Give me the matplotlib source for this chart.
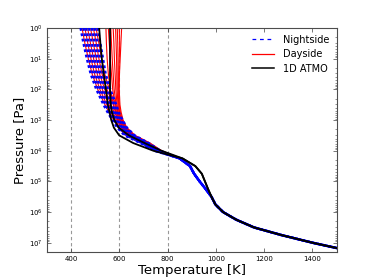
import numpy as np
import matplotlib
matplotlib.use('Agg')
import matplotlib.pyplot as plt
from matplotlib.lines import Line2D

# log10 pressure levels (Pa) for the upper part of each profile
upper_logp = [0, 0.5, 1, 1.5, 2, 2.5, 2.75, 3, 3.25, 3.5, 3.75, 4.0]
# deeper levels, where all GCM profiles have converged
deep_logp = [4.25, 4.5, 4.75, 5.0, 5.25, 5.5, 5.75, 6.0, 6.25, 6.5, 6.75, 7.0, 7.25, 7.5]

# nightside temperature profiles (K), upper part
night_T = [
    [440, 452, 466, 482, 505, 535, 552, 572, 592, 622, 688, 745],
    [452, 464, 477, 492, 514, 543, 559, 579, 598, 629, 693, 749],
    [463, 475, 488, 503, 524, 552, 567, 586, 605, 636, 698, 753],
    [475, 487, 499, 513, 534, 561, 575, 593, 612, 643, 704, 757],
    [487, 499, 510, 523, 543, 570, 582, 600, 618, 650, 710, 762],
    [498, 510, 521, 534, 553, 579, 590, 607, 625, 657, 716, 766],
    [510, 522, 533, 544, 563, 588, 598, 614, 632, 664, 722, 770],
]

# dayside temperature profiles (K), upper part
day_T = [
    [446, 458, 472, 488, 511, 541, 558, 578, 597, 627, 692, 748],
    [458, 470, 483, 498, 520, 549, 565, 584, 603, 634, 697, 752],
    [469, 481, 494, 509, 530, 558, 573, 591, 610, 641, 702, 756],
    [481, 493, 505, 519, 540, 567, 580, 598, 616, 648, 708, 760],
    [493, 505, 516, 529, 549, 576, 588, 605, 623, 655, 714, 764],
    [504, 516, 527, 540, 559, 585, 595, 612, 629, 661, 719, 768],
    [545, 547, 550, 555, 563, 576, 584, 594, 610, 640, 700, 755],
    [555, 559, 563, 568, 573, 582, 589, 598, 614, 644, 704, 758],
    [565, 568, 571, 575, 579, 587, 593, 601, 617, 648, 708, 761],
    [575, 578, 580, 583, 586, 591, 596, 604, 620, 652, 712, 764],
    [585, 587, 589, 590, 591, 595, 599, 607, 623, 655, 716, 767],
    [592, 594, 595, 595, 595, 598, 602, 610, 626, 658, 720, 770],
    [600, 602, 600, 598, 598, 600, 605, 613, 629, 662, 724, 773],
    [610, 607, 604, 601, 600, 603, 608, 616, 632, 666, 728, 776],
]

# shared deep part of the GCM profiles (K)
gcm_deep_T = [850, 893, 910, 933, 958, 982, 998, 1030, 1085, 1158, 1272, 1401, 1545, 1700]

# 1D ATMO profiles (K), upper + deep
atmo_T = [
    [517, 522, 528, 536, 545, 553, 560, 567, 578, 600, 658, 741],
    [562, 562, 562, 562, 562, 565, 570, 580, 598, 640, 705, 775],
]
atmo_deep_T = [862, 915, 942, 955, 968, 982, 998, 1030, 1085, 1158, 1272, 1401, 1545, 1700]

ref_T = [400, 600, 800]

plt.rcParams['font.family'] = 'DejaVu Sans'
plt.rcParams['mathtext.fontset'] = 'dejavusans'

fig = plt.figure(figsize=(3.74, 2.8), dpi=100)
ax = fig.add_axes([0.125, 0.1, 0.775, 0.8])

p = 10.0 ** np.array(upper_logp + deep_logp)

for t in ref_T:
    ax.axvline(t, color='0.6', ls=(0, (3, 2.5)), lw=0.8, zorder=1)

for prof in day_T:
    ax.plot(prof + gcm_deep_T, p, color='red', lw=0.8, zorder=2)
for prof in night_T:
    ax.plot(prof + gcm_deep_T, p, color='blue', lw=1.7, ls=(0, (1.2, 1.1)), zorder=3)
for prof in atmo_T:
    ax.plot(prof + atmo_deep_T, p, color='black', lw=1.3, zorder=4)

ax.set_yscale('log')
ax.set_xlim(300, 1500)
ax.set_ylim(2e7, 1)
ax.set_xticks([400, 600, 800, 1000, 1200, 1400])
ax.set_yticks([10.0 ** k for k in range(8)])

ax.tick_params(which='both', direction='in', top=True, right=True,
               labelsize=5, color='0.25', pad=3)
ax.tick_params(which='major', length=3, width=0.5)
ax.tick_params(which='minor', length=1.5, width=0.4)
for s in ax.spines.values():
    s.set_color('0.3')
    s.set_linewidth(0.8)

ax.set_xlabel('Temperature [K]', fontsize=9.5, labelpad=1)
ax.set_ylabel('Pressure [Pa]', fontsize=9.5, labelpad=2)

handles = [Line2D([], [], color='blue', lw=0.9, ls=(0, (3, 3))),
           Line2D([], [], color='red', lw=0.9),
           Line2D([], [], color='black', lw=1.1)]
ax.legend(handles, ['Nightside', 'Dayside', '1D ATMO'], loc='upper right',
          frameon=False, fontsize=7, handlelength=2.2, handletextpad=1.0,
          labelspacing=0.45, borderaxespad=0.3)

fig.savefig('out.png', dpi=100)
